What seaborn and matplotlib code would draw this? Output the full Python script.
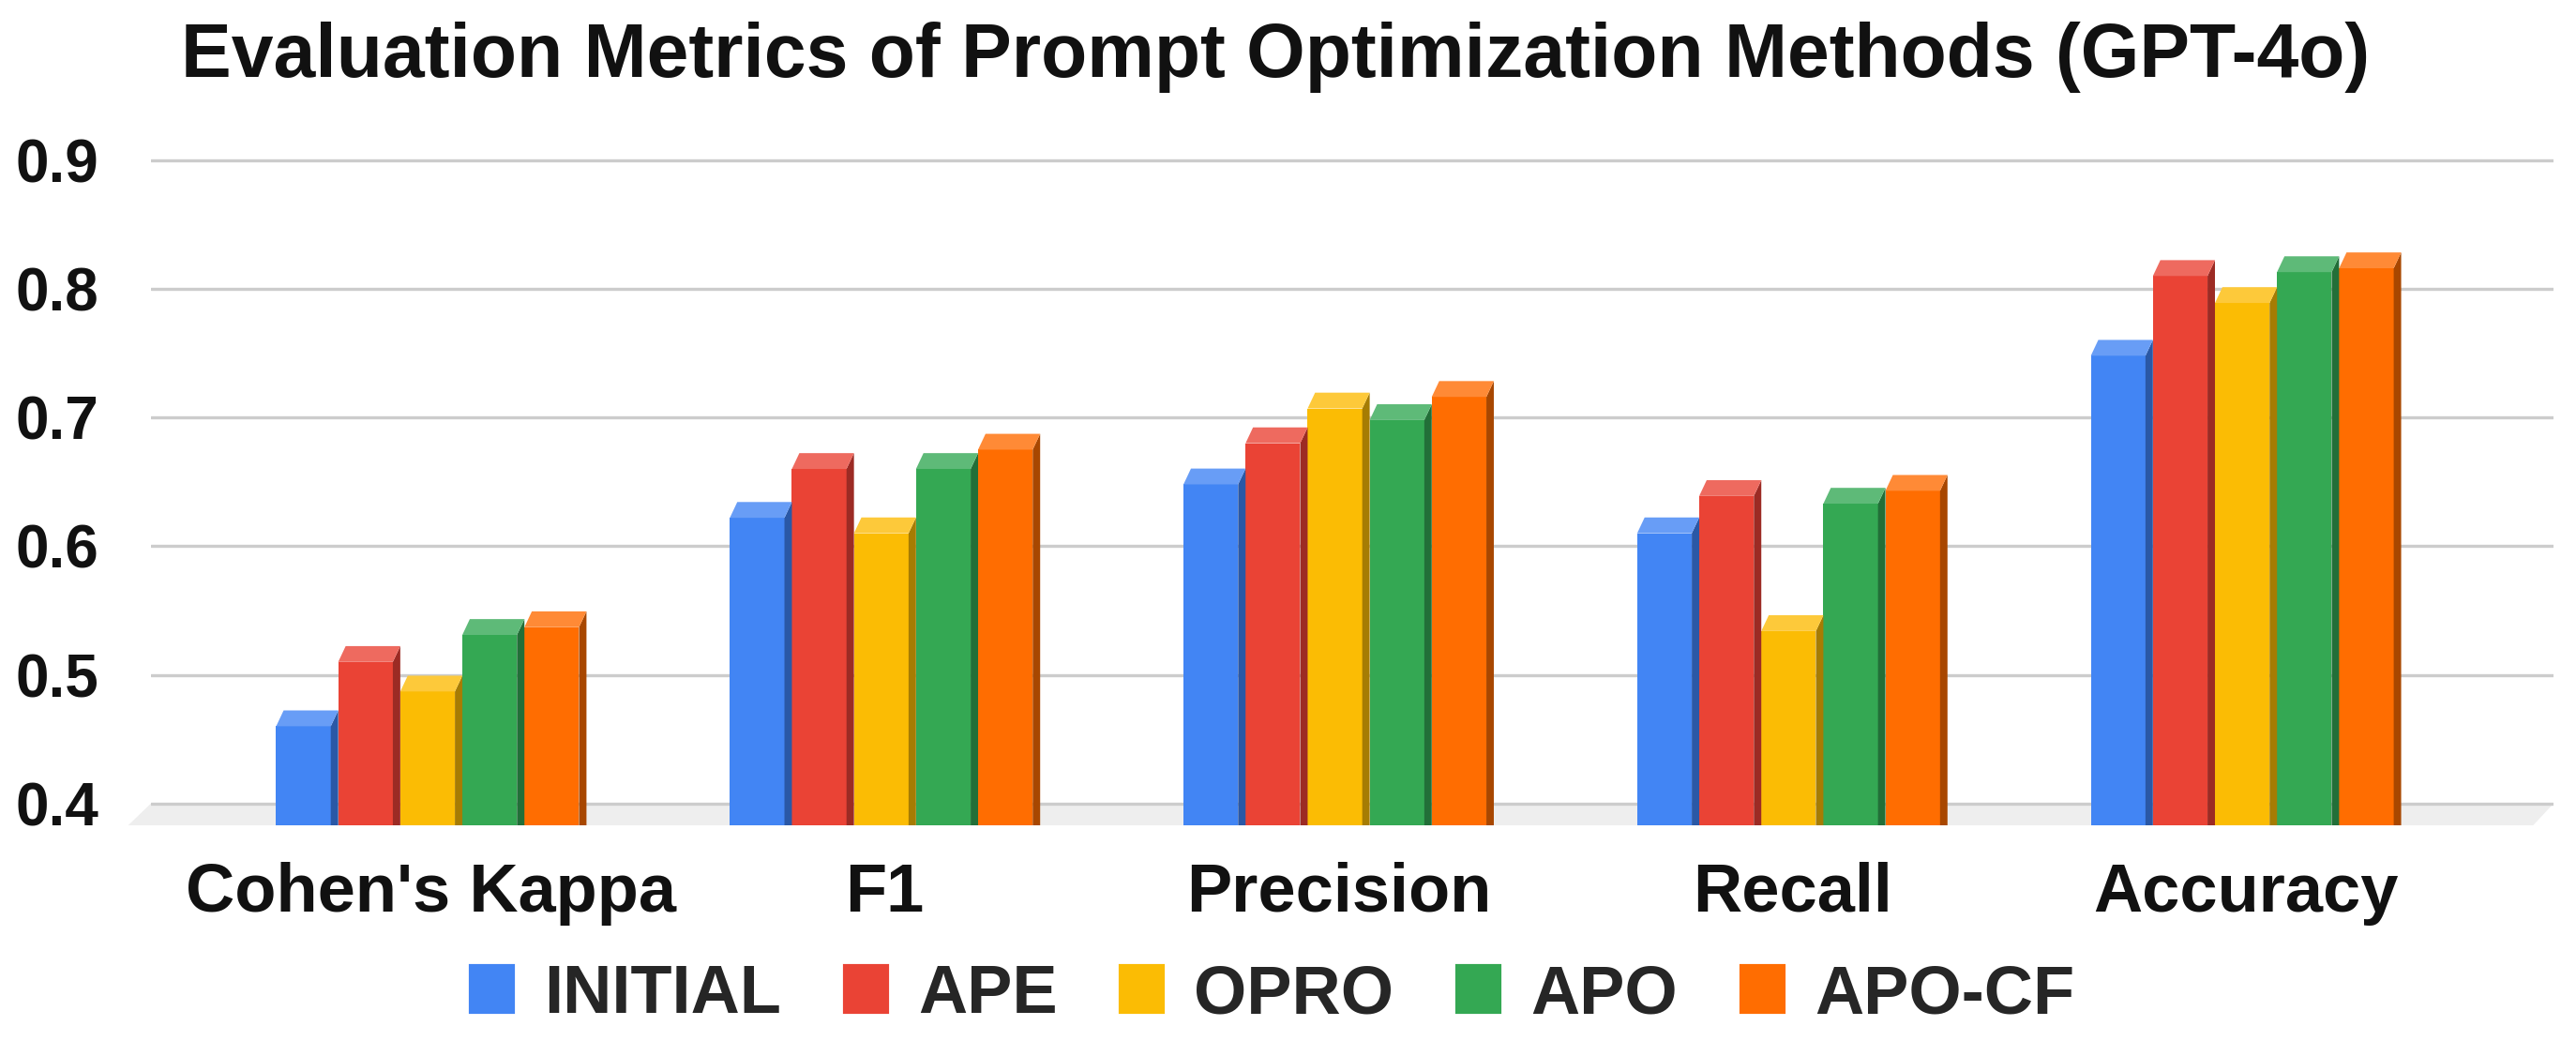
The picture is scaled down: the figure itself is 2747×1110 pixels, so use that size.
import numpy as np
import pandas as pd
import seaborn as sns
import matplotlib.pyplot as plt
from matplotlib.patches import Polygon, Patch

metrics = ["Cohen's Kappa", "F1", "Precision", "Recall", "Accuracy"]
methods = ["INITIAL", "APE", "OPRO", "APO", "APO-CF"]

initial = [0.460, 0.622, 0.648, 0.610, 0.748]
ape = [0.510, 0.660, 0.680, 0.639, 0.810]
opro = [0.487, 0.610, 0.707, 0.534, 0.789]
apo = [0.531, 0.660, 0.698, 0.633, 0.813]
apo_cf = [0.537, 0.675, 0.716, 0.643, 0.816]

front_col = ["#4285F4", "#EA4335", "#FBBC04", "#34A853", "#FF6D01"]
side_col = ["#2A58A6", "#9C2B24", "#A67C03", "#226F38", "#A84700"]
top_col = ["#689DF6", "#EE6A5F", "#FDC93A", "#5EBA78", "#FF8A36"]

df = pd.DataFrame({
    "metric": metrics * len(methods),
    "method": np.repeat(methods, len(metrics)),
    "score": initial + ape + opro + apo + apo_cf,
})

sns.set_theme(style="white")
plt.rcParams['font.family'] = ['Liberation Sans', 'DejaVu Sans']

fig = plt.figure(figsize=(27.47, 11.1), dpi=100)
ax = fig.add_axes([0.0586, 0.2072, 0.9327, 0.6451])

sns.barplot(data=df, x="metric", y="score", hue="method", palette=front_col,
            saturation=1, width=0.684, legend=False, ax=ax, linewidth=0, zorder=3)

ax.set_xlim(-0.618, 4.678)
ax.set_ylim(0.383, 0.905)
y0 = ax.get_ylim()[0]

# fake 3D: shrink front face, add side + top faces
dy = 0.0123
for i, cont in enumerate(ax.containers):
    for bar in cont:
        x0 = bar.get_x()
        w = bar.get_width()
        h = bar.get_height()
        wf = w * 0.88
        bar.set_width(wf)
        side = Polygon([(x0 + wf, y0), (x0 + wf, h), (x0 + w, h + dy), (x0 + w, y0)],
                       closed=True, facecolor=side_col[i], edgecolor='none', zorder=3)
        top = Polygon([(x0, h), (x0 + wf, h), (x0 + w, h + dy), (x0 + (w - wf), h + dy)],
                      closed=True, facecolor=top_col[i], edgecolor='none', zorder=3)
        ax.add_patch(side)
        ax.add_patch(top)

# floor
xl = ax.get_xlim()
floor = Polygon([(xl[0], 0.4), (xl[1], 0.4), (xl[1] - 0.045, y0), (xl[0] - 0.05, y0)],
                closed=True, facecolor="#EEEEEE", edgecolor='none', zorder=0.4, clip_on=False)
ax.add_patch(floor)

ax.set_yticks([0.4, 0.5, 0.6, 0.7, 0.8, 0.9])
ax.set_yticklabels(["0.4", "0.5", "0.6", "0.7", "0.8", "0.9"])
ax.yaxis.grid(True, color="#CCCCCC", linewidth=2.4)
ax.xaxis.grid(False)
ax.set_axisbelow(True)
for s in ax.spines.values():
    s.set_visible(False)
ax.tick_params(axis='y', length=0, pad=40, labelsize=46, labelcolor="#111111")
ax.tick_params(axis='x', length=0, pad=28, labelsize=52, labelcolor="#111111")
for lab in ax.get_xticklabels() + ax.get_yticklabels():
    lab.set_fontweight('bold')
ax.set_xlabel("")
ax.set_ylabel("")

fig.text(0.495, 0.926, "Evaluation Metrics of Prompt Optimization Methods (GPT-4o)",
         ha='center', va='baseline', fontsize=58, fontweight='bold', color="#111111")

handles = [Patch(facecolor=c, edgecolor=c, linewidth=3, joinstyle='round') for c in front_col]
fig.legend(handles, methods, loc='center', bbox_to_anchor=(0.494, 0.044), ncol=5,
           frameon=False, prop={'weight': 'bold', 'size': 52},
           handlelength=0.62, handleheight=0.66, handletextpad=0.46, columnspacing=0.94)

fig.savefig("out.png", dpi=100)
